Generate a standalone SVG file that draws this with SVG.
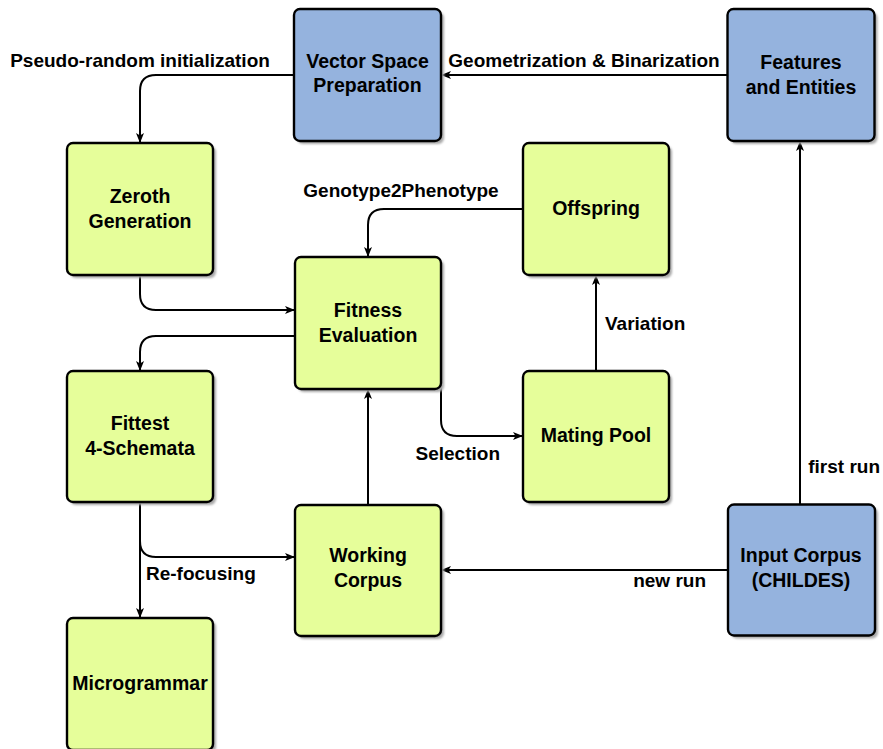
<svg xmlns="http://www.w3.org/2000/svg" width="883" height="749" viewBox="0 0 883 749">
  <defs>
    <marker id="arrow" markerUnits="userSpaceOnUse" markerWidth="12" markerHeight="10" viewBox="-10 -5 12 10" refX="0" refY="0" orient="auto">
      <path d="M1,0 L-9,-4 L-6.5,0 L-9,4 Z" fill="#000"/>
    </marker>
    <filter id="soft" x="-10%" y="-10%" width="120%" height="120%">
      <feGaussianBlur stdDeviation="1"/>
    </filter>
  </defs>
  <style>
    .shadow { fill: #a8a8a8; filter: url(#soft); }
    .box { stroke: #000; stroke-width: 2.4; }
    .green { fill: #e6fe9a; }
    .blue { fill: #95b3de; }
    text { font-family: "Liberation Sans", Arial, sans-serif; font-weight: bold; fill: #000; }
    .node-label { font-size: 19.5px; text-anchor: middle; }
    .edge-label { font-size: 19px; }
    .conn { fill: none; stroke: #000; stroke-width: 2; }
    .conn.arr { marker-end: url(#arrow); }
  </style>

  <rect width="883" height="749" fill="#fff"/>

  <!-- connectors -->
  <g id="connectors">
    <path class="conn arr" d="M294,75 H156 Q140,75 140,91 V142"/>
    <path class="conn arr" d="M727,75 H442"/>
    <path class="conn arr" d="M800,504 V142"/>
    <path class="conn arr" d="M728,570 H442"/>
    <path class="conn arr" d="M368,505 V390"/>
    <path class="conn arr" d="M140,275 V294 Q140,310 156,310 H294"/>
    <path class="conn arr" d="M295,336 H156 Q140,336 140,352 V370"/>
    <path class="conn arr" d="M441,292 V420 Q441,436 457,436 H522"/>
    <path class="conn arr" d="M596,371 V276"/>
    <path class="conn arr" d="M523,209 H384 Q368,209 368,225 V256"/>
    <path class="conn arr" d="M140,502 V541 Q140,557 156,557 H294"/>
    <path class="conn arr" d="M140,502 V617"/>
    <text class="edge-label" x="140" y="67" text-anchor="middle">Pseudo-random initialization</text>
    <text class="edge-label" x="584" y="67" text-anchor="middle">Geometrization &amp; Binarization</text>
    <text class="edge-label" x="401" y="197" text-anchor="middle">Genotype2Phenotype</text>
    <text class="edge-label" x="605" y="330">Variation</text>
    <text class="edge-label" x="500" y="460" text-anchor="end">Selection</text>
    <text class="edge-label" x="146" y="580">Re-focusing</text>
    <text class="edge-label" x="706" y="587" text-anchor="end">new run</text>
    <text class="edge-label" x="880" y="473" text-anchor="end">first run</text>
  </g>

  <g id="vector-space">
    <rect class="shadow" x="297" y="12" width="147" height="132" rx="6"/>
    <rect class="box blue" x="294" y="9" width="147" height="132" rx="6"/>
    <text class="node-label" x="367.5" y="68">Vector Space</text>
    <text class="node-label" x="367.5" y="92">Preparation</text>
  </g>

  <g id="features">
    <rect class="shadow" x="730.5" y="12" width="147" height="132" rx="6"/>
    <rect class="box blue" x="727.5" y="9" width="147" height="132" rx="6"/>
    <text class="node-label" x="801" y="69">Features</text>
    <text class="node-label" x="801" y="94">and Entities</text>
  </g>

  <g id="zeroth">
    <rect class="shadow" x="70" y="146" width="146" height="132" rx="6"/>
    <rect class="box green" x="67" y="143" width="146" height="132" rx="6"/>
    <text class="node-label" x="140" y="203">Zeroth</text>
    <text class="node-label" x="140" y="228">Generation</text>
  </g>

  <g id="offspring">
    <rect class="shadow" x="526" y="146" width="146" height="132" rx="6"/>
    <rect class="box green" x="523" y="143" width="146" height="132" rx="6"/>
    <text class="node-label" x="596" y="215">Offspring</text>
  </g>

  <g id="fitness">
    <rect class="shadow" x="298" y="260" width="146" height="132" rx="6"/>
    <rect class="box green" x="295" y="257" width="146" height="132" rx="6"/>
    <text class="node-label" x="368" y="317">Fitness</text>
    <text class="node-label" x="368" y="342">Evaluation</text>
  </g>

  <g id="fittest">
    <rect class="shadow" x="70" y="374" width="146" height="131" rx="6"/>
    <rect class="box green" x="67" y="371" width="146" height="131" rx="6"/>
    <text class="node-label" x="140" y="430">Fittest</text>
    <text class="node-label" x="140" y="455">4-Schemata</text>
  </g>

  <g id="mating-pool">
    <rect class="shadow" x="526" y="374" width="146" height="131" rx="6"/>
    <rect class="box green" x="523" y="371" width="146" height="131" rx="6"/>
    <text class="node-label" x="596" y="442">Mating Pool</text>
  </g>

  <g id="working-corpus">
    <rect class="shadow" x="298" y="508" width="146" height="131" rx="6"/>
    <rect class="box green" x="295" y="505" width="146" height="131" rx="6"/>
    <text class="node-label" x="368" y="562">Working</text>
    <text class="node-label" x="368" y="587">Corpus</text>
  </g>

  <g id="input-corpus">
    <rect class="shadow" x="731" y="507.5" width="147" height="131" rx="6"/>
    <rect class="box blue" x="728" y="504.5" width="147" height="131" rx="6"/>
    <text class="node-label" x="801" y="562">Input Corpus</text>
    <text class="node-label" x="801" y="587">(CHILDES)</text>
  </g>

  <g id="microgrammar">
    <rect class="shadow" x="70" y="621" width="146" height="132" rx="6"/>
    <rect class="box green" x="67" y="618" width="146" height="132" rx="6"/>
    <text class="node-label" x="140" y="690">Microgrammar</text>
  </g>
</svg>
